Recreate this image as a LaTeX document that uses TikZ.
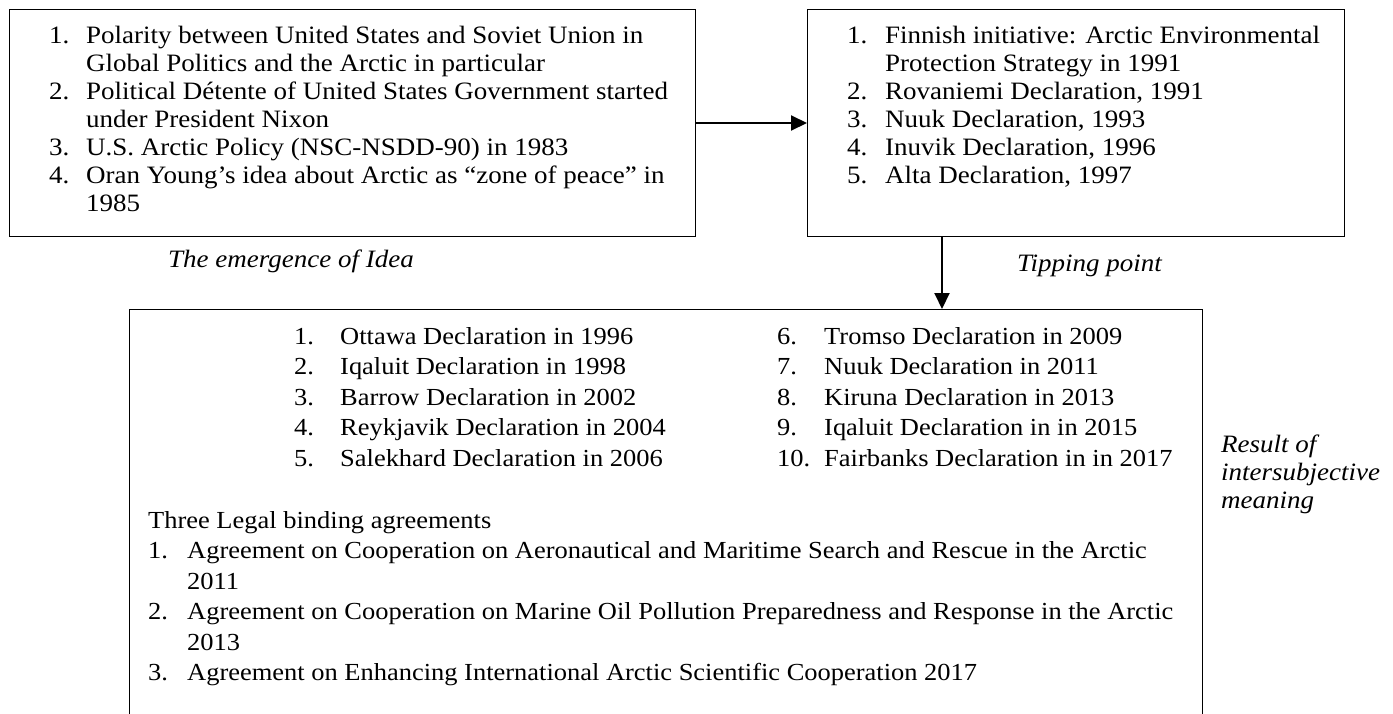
\documentclass[tikz,border=0pt]{standalone}
\usepackage{fontspec}
\setmainfont[FakeStretch=1.08]{Liberation Serif}
\usepackage{array}
\usetikzlibrary{arrows.meta}
\begin{document}
\begin{tikzpicture}[x=1pt,y=-1pt,
  box/.style={draw=black, line width=1pt, rectangle, inner sep=0pt, anchor=north west},
  arr/.style={line width=2pt, -{Triangle[length=16pt,width=15pt]}},
  txt/.style={anchor=base west, inner sep=0pt, align=left},
  big/.style={font=\fontsize{25}{28}\selectfont},
  mid/.style={font=\fontsize{24.5}{30.5}\selectfont},
  lab/.style={anchor=base west, inner sep=0pt, font=\fontsize{25}{28}\selectfont\itshape}]
\useasboundingbox (0,0) rectangle (1393,713);

% boxes
\node[box, minimum width=686pt, minimum height=227pt] (b1) at (9,9) {};
\node[box, minimum width=537pt, minimum height=227pt] (b2) at (807,9) {};
\node[box, minimum width=1073pt, minimum height=420pt] (b3) at (129,309) {};

% box 1 text
\node[txt, big] (t1) at (49,43) {\begin{tabular}[t]{@{}p{37pt}@{}l@{}}
1. & Polarity between United States and Soviet Union in\\
   & Global Politics and the Arctic in particular\\
2. & Political Détente of United States Government started\\
   & under President Nixon\\
3. & U.S. Arctic Policy (NSC-NSDD-90) in 1983\\
4. & Oran Young’s idea about Arctic as “zone of peace” in\\
   & 1985
\end{tabular}};

% box 2 text
\node[txt, big] (t2) at (847,43) {\begin{tabular}[t]{@{}p{38pt}@{}l@{}}
1. & Finnish initiative: Arctic Environmental\\
   & Protection Strategy in 1991\\
2. & Rovaniemi Declaration, 1991\\
3. & Nuuk Declaration, 1993\\
4. & Inuvik Declaration, 1996\\
5. & Alta Declaration, 1997
\end{tabular}};

% box 3 text, declarations
\node[txt, mid] (t3a) at (294,344) {\begin{tabular}[t]{@{}p{46pt}@{}l@{}}
1. & Ottawa Declaration in 1996\\
2. & Iqaluit Declaration in 1998\\
3. & Barrow Declaration in 2002\\
4. & Reykjavik Declaration in 2004\\
5. & Salekhard Declaration in 2006
\end{tabular}};
\node[txt, mid] (t3b) at (777,344) {\begin{tabular}[t]{@{}p{47pt}@{}l@{}}
6. & Tromso Declaration in 2009\\
7. & Nuuk Declaration in 2011\\
8. & Kiruna Declaration in 2013\\
9. & Iqaluit Declaration in in 2015\\
10. & Fairbanks Declaration in in 2017
\end{tabular}};

% box 3 text, agreements
\node[txt, mid] (t3c) at (148,528) {\begin{tabular}[t]{@{}p{39pt}@{}l@{}}
\multicolumn{2}{@{}l@{}}{Three Legal binding agreements}\\
1. & Agreement on Cooperation on Aeronautical and Maritime Search and Rescue in the Arctic\\
   & 2011\\
2. & Agreement on Cooperation on Marine Oil Pollution Preparedness and Response in the Arctic\\
   & 2013\\
3. & Agreement on Enhancing International Arctic Scientific Cooperation 2017
\end{tabular}};

% labels
\node[lab] (l1) at (168,267) {The emergence of Idea};
\node[lab] (l2) at (1017,271) {Tipping point};
\node[lab] (l3) at (1221,452) {\begin{tabular}[t]{@{}l@{}}Result of\\intersubjective\\meaning\end{tabular}};

% connectors
\draw[arr] (b1.east) -- (b2.west);
\draw[arr] ([xshift=135pt]b2.south west) -- ([xshift=135pt]b2.south west |- b3.north);
\end{tikzpicture}
\end{document}
